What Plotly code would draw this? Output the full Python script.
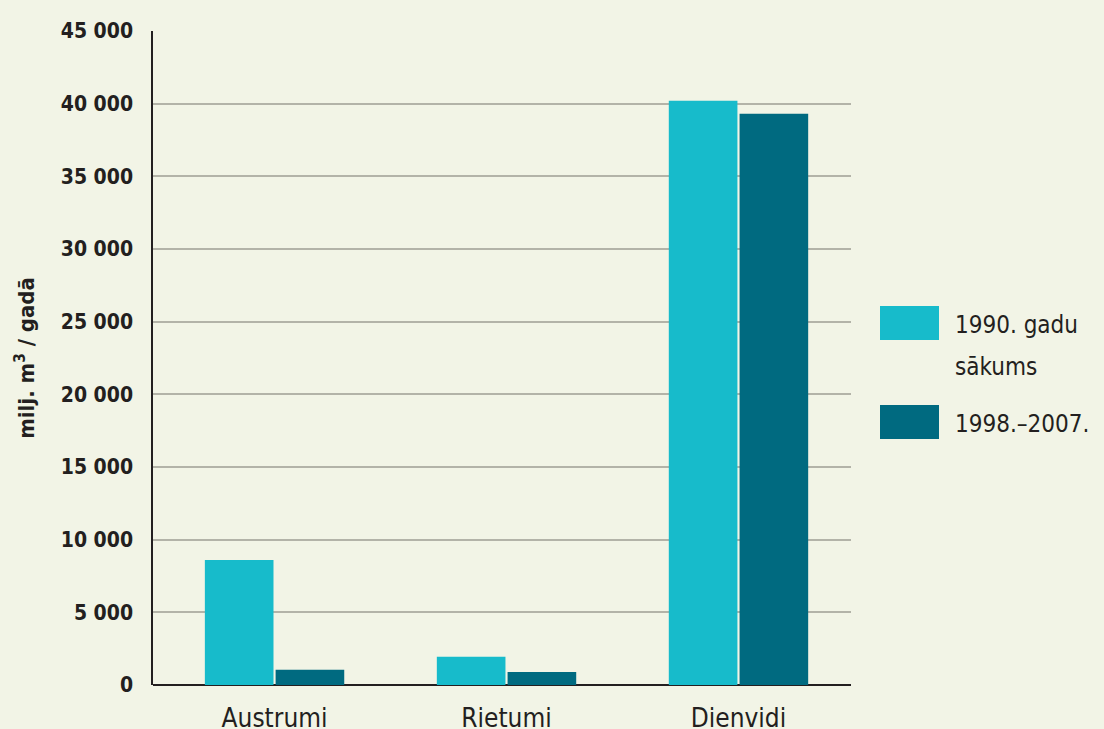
import plotly.graph_objects as go

categories = ["Austrumi", "Rietumi", "Dienvidi"]
series_names = ["1990. gadu<br>sākums", "1998.–2007."]
values_1990 = [8600, 1950, 40200]
values_1998 = [1050, 900, 39300]
tick_values = [0, 5000, 10000, 15000, 20000, 25000, 30000, 35000, 40000, 45000]

colors = ["#17BBCB", "#006A80"]
bg = "#F2F4E6"
font_family = "DejaVu Sans Condensed, Liberation Sans Narrow, sans-serif"
txt = "#231F20"

fig = go.Figure()
for name, vals, col in zip(series_names, [values_1990, values_1998], colors):
    fig.add_trace(go.Bar(x=categories, y=vals, name=name, marker=dict(color=col, line=dict(width=0)),
                         showlegend=False))

def py(pix):
    return (685 - pix) / 654

# custom legend (large swatches)
legend_centers = [323, 422]
for name, col, c in zip(series_names, colors, legend_centers):
    fig.add_shape(type="rect", xref="paper", yref="paper",
                  x0=(880 - 153) / 698, x1=(939 - 153) / 698, y0=py(c + 17), y1=py(c - 17),
                  fillcolor=col, line=dict(width=0))
    for i, line in enumerate(name.split("<br>")):
        fig.add_annotation(xref="paper", yref="paper", x=(953 - 153) / 698, y=py(c + 2 + 42 * i),
                           xanchor="left", yanchor="middle",
                           text=line, showarrow=False, align="left",
                           font=dict(family=font_family, size=24, color=txt))

fig.update_layout(
    width=1104, height=729,
    paper_bgcolor=bg, plot_bgcolor=bg,
    margin=dict(l=153, r=253, t=31, b=44, autoexpand=False),
    barmode="group", bargap=0.39, bargroupgap=0.03,
    separators=", ",
    font=dict(family=font_family, color=txt),
    xaxis=dict(range=[-0.524, 2.485], showgrid=False, showline=False, ticks="",
               automargin=False, ticklabelstandoff=15,
               tickfont=dict(size=26, family=font_family, color=txt)),
    yaxis=dict(range=[0, 45000], tickvals=tick_values, tickformat=",d",
               automargin=False,
               showgrid=True, gridcolor="#B3B3A8", gridwidth=1.5,
               showline=True, linecolor=txt, linewidth=1.5,
               zeroline=True, zerolinecolor=txt, zerolinewidth=2,
               ticks="", ticklabelstandoff=14,
               tickfont=dict(size=21, family=font_family, color=txt, weight="bold"),
               title=dict(text="<b>milj. m<sup>3</sup> / gadā</b>", standoff=20,
                          font=dict(size=22, family=font_family, color=txt))),
)

fig.write_html("out.html")
